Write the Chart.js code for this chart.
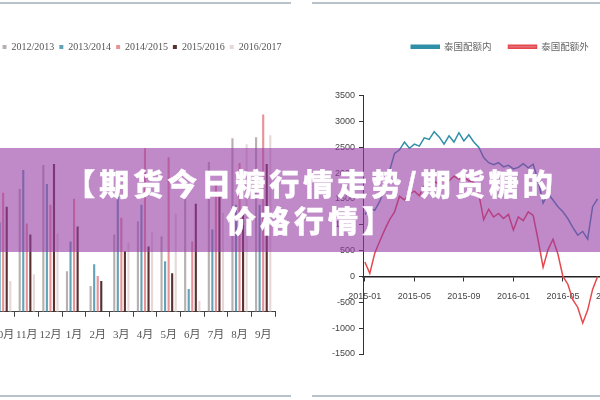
<!DOCTYPE html>
<html>
<head>
<meta charset="utf-8">
<script src="https://cdn.jsdelivr.net/npm/chart.js@4.4.0/dist/chart.umd.min.js"></script>
<style>
  body { margin: 0; width: 600px; height: 400px; overflow: hidden; background: #fff; position: relative; }
  canvas { position: absolute; top: 0; }
  .rule { position: absolute; height: 2px; background: #b7c2ca; }
  #banner {
    position: absolute; left: 0; top: 148px; width: 600px; height: 104px;
    background: rgba(150, 60, 165, 0.6);
  }
  #banner div {
    position: absolute; left: 11px; top: 16px; width: 600px; text-align: center;
    color: #fff; font-family: "Noto Sans CJK SC", sans-serif; font-weight: 900;
    font-size: 30px; line-height: 37px; letter-spacing: 4px;
    -webkit-text-stroke: 0.4px #fff;
  }
</style>
</head>
<body>
<canvas id="barChart" width="320" height="400" style="left:-20px"></canvas>
<canvas id="lineChart" width="380" height="400" style="left:310px"></canvas>
<div class="rule" style="left:0;width:291px;top:2px"></div>
<div class="rule" style="left:312px;width:288px;top:2px"></div>
<div class="rule" style="left:0;width:291px;top:395px"></div>
<div class="rule" style="left:312px;width:288px;top:395px"></div>
<div id="banner"><div>【期货今日糖行情走势/期货糖的<br>价格行情】</div></div>

<script>
// left chart: monthly bars per season
const months = ['10月', '11月', '12月', '1月', '2月', '3月', '4月', '5月', '6月', '7月', '8月', '9月'];
const season1213 = [60, 124, 148, 41, 26, 78, 91, 76, 114, 151, 175, 176];
const season1314 = [90, 143, 129, 71, 48, 118, 108, 51, 23, 83, 108, 108];
const season1415 = [120, 89, 108, 114, 36, 95, 165, 156, 71, 130, 150, 199];
const season1516 = [106, 78, 149, 86, 31, 61, 66, 39, 109, 118, 98, 149];
const season1617 = [31, 38, 79, 0, 0, 70, 80, 99, 11, 100, 169, 178];

// right chart: Thai quota spreads
const tickLabels = ['2015-01', '2015-05', '2015-09', '2016-01', '2016-05', '2016-09', '2017-01'];
const tickMonths = [0, 4, 8, 12, 16, 20, 24];
const monthPos = [0, 0.4, 0.8, 1.2, 1.6, 2.0, 2.4, 2.8, 3.2, 3.6, 4.0, 4.4, 4.8, 5.2, 5.6, 6.0,
  6.4, 6.8, 7.2, 7.6, 8.0, 8.4, 8.8, 9.2, 9.6, 10.0, 10.4, 10.8, 11.2, 11.6, 12.0, 12.4,
  12.8, 13.2, 13.6, 14.0, 14.4, 14.8, 15.2, 15.6, 16.0, 16.4, 16.8, 17.2, 17.6, 18.0, 18.4, 18.8];
const inQuota = [1200, 1320, 1280, 1450, 1700, 2050, 2380, 2450, 2600, 2480, 2560, 2520, 2680, 2650, 2800, 2700,
  2560, 2720, 2600, 2780, 2620, 2740, 2600, 2500, 2300, 2200, 2160, 2200, 2120, 2150, 2080, 2110,
  2180, 2100, 2170, 1850, 1420, 1600, 1480, 1350, 1250, 1120, 950, 800, 870, 720, 1350, 1500];
const outQuota = [280, 60, 450, 680, 900, 1100, 1250, 1550, 1480, 1600, 1650, 1560, 1760, 1700, 1840, 1780,
  1900, 1850, 1940, 1880, 1920, 1850, 1820, 1600, 1100, 1300, 1150, 1220, 1120, 1200, 900, 1150,
  1080, 1250, 1180, 700, 180, 520, 720, 430, 0, -150, -450, -600, -900, -650, -250, 0];

const barFont = { family: '"Liberation Serif", "Noto Sans CJK SC", serif', size: 10 };

new Chart(document.getElementById('barChart'), {
  type: 'bar',
  data: {
    labels: months,
    datasets: [
      { label: '2012/2013', data: season1213, backgroundColor: 'rgba(160,150,150,0.75)' },
      { label: '2013/2014', data: season1314, backgroundColor: 'rgba(60,140,165,0.8)' },
      { label: '2014/2015', data: season1415, backgroundColor: 'rgba(228,120,125,0.8)' },
      { label: '2015/2016', data: season1516, backgroundColor: 'rgba(70,25,25,0.9)' },
      { label: '2016/2017', data: season1617, backgroundColor: 'rgba(225,205,205,0.8)' }
    ]
  },
  options: {
    responsive: false,
    animation: false,
    barPercentage: 0.6,
    categoryPercentage: 0.75,
    layout: { padding: { left: 4, right: 0, top: 37, bottom: 46 } },
    plugins: {
      legend: {
        labels: { boxWidth: 4, boxHeight: 4, padding: 5, color: '#555', font: barFont }
      },
      tooltip: { enabled: false }
    },
    scales: {
      x: {
        grid: { drawOnChartArea: false, tickLength: 5, color: '#444' },
        border: { color: '#444' },
        ticks: {
          color: '#555', padding: 12, autoSkip: false, minRotation: 0, maxRotation: 0,
          font: { family: '"Liberation Serif", "Noto Sans CJK SC", serif', size: 11 }
        }
      },
      y: {
        position: 'right',
        min: 0,
        max: 252,
        ticks: { display: false },
        grid: { display: false },
        border: { display: false },
        afterFit: function (s) { s.width = 25; }
      }
    }
  }
});

const axisFont = { family: '"Liberation Sans Narrow", "Liberation Sans", sans-serif', size: 9 };

new Chart(document.getElementById('lineChart'), {
  type: 'line',
  data: {
    datasets: [
      {
        label: '泰国配额内',
        data: monthPos.map((m, i) => ({ x: m, y: inQuota[i] })),
        borderColor: '#2f8fa8',
        backgroundColor: '#2f8fa8',
        borderWidth: 1.5,
        pointRadius: 0
      },
      {
        label: '泰国配额外',
        data: monthPos.map((m, i) => ({ x: m, y: outQuota[i] })),
        borderColor: '#e5484d',
        backgroundColor: '#e5707a',
        borderWidth: 1.5,
        pointRadius: 0
      }
    ]
  },
  options: {
    responsive: false,
    animation: false,
    layout: { padding: { left: 0, right: 0, top: 25, bottom: 46 } },
    plugins: {
      legend: {
        labels: { boxWidth: 28, boxHeight: 3, padding: 17, color: '#666', font: { family: '"Noto Sans CJK SC", sans-serif', size: 9.5 } }
      },
      tooltip: { enabled: false }
    },
    scales: {
      x: {
        type: 'linear',
        position: { y: 0 },
        min: -0.15,
        max: 25.5,
        afterBuildTicks: function (s) { s.ticks = tickMonths.map(v => ({ value: v })); },
        ticks: { color: '#444', padding: 11, font: axisFont, maxRotation: 0, callback: (v, i) => tickLabels[i] },
        grid: { drawOnChartArea: false, tickLength: 4, color: '#333' },
        border: { color: '#222', width: 1.5 }
      },
      xTop: {
        type: 'linear',
        position: 'top',
        ticks: { display: false },
        grid: { display: false },
        border: { display: false },
        afterFit: function (s) { s.height = 34; }
      },
      y: {
        min: -1500,
        max: 3500,
        ticks: { stepSize: 500, color: '#444', padding: 4, font: axisFont, callback: v => String(v) },
        grid: { drawOnChartArea: false, tickLength: 4, color: '#333' },
        border: { color: '#333' },
        afterFit: function (s) { s.width = 53; }
      }
    }
  }
});
</script>
</body>
</html>
